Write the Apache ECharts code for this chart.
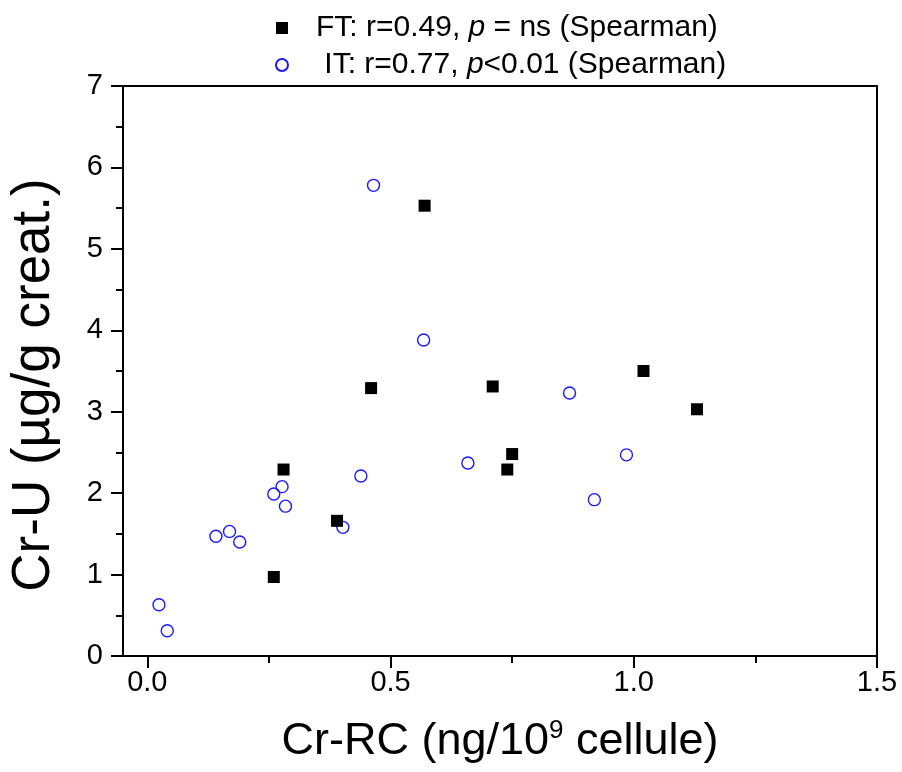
<!DOCTYPE html>
<html>
<head>
<meta charset="utf-8">
<script src="https://cdn.jsdelivr.net/npm/echarts@6/dist/echarts.min.js"></script>
<style>html,body{margin:0;padding:0;background:#fff}#c{width:902px;height:772px}</style>
</head>
<body>
<div id="c"></div>
<script>
// FT series (filled squares)
var ftX = [0.26, 0.28, 0.39, 0.46, 0.57, 0.71, 0.74, 0.75, 1.02, 1.13];
var ftY = [0.97, 2.29, 1.66, 3.29, 5.53, 3.31, 2.29, 2.48, 3.50, 3.03];
// IT series (open circles)
var itX = [0.024, 0.041, 0.141, 0.169, 0.190, 0.260, 0.277, 0.284, 0.402, 0.439, 0.465, 0.568, 0.659, 0.868, 0.919, 0.985];
var itY = [0.63, 0.31, 1.47, 1.53, 1.40, 1.99, 2.08, 1.84, 1.58, 2.21, 5.78, 3.88, 2.37, 3.23, 1.92, 2.47];
// ticks
var xMajorTicks = [0, 0.5, 1.0, 1.5];
var xMinorTicks = [0.25, 0.75, 1.25];
var yTicks = [0, 1, 2, 3, 4, 5, 6, 7];

var FONT = "'Liberation Sans', Arial, sans-serif";
function pairs(xs, ys){ return xs.map(function(x,i){ return [x, ys[i]]; }); }

var chart = echarts.init(document.getElementById('c'), null, {renderer:'canvas'});
var legendText = {
  FT: '{g| }{n|FT: r=0.49, }{i|p}{n| = ns (Spearman)}',
  IT: '{g| }{n| IT: r=0.77, }{i|p}{n|<0.01 (Spearman)}'
};
chart.setOption({
  animation: false,
  backgroundColor: '#fff',
  textStyle: {fontFamily: FONT, color: '#000'},
  grid: {left: 123, right: 25, top: 86, bottom: 116, show: true, borderColor: '#000', borderWidth: 2, backgroundColor: 'transparent', containLabel: false},
  legend: {
    orient: 'vertical', left: 270, top: 8, itemGap: 7,
    itemWidth: 12, itemHeight: 12,
    data: ['FT', 'IT'],
    formatter: function(n){ return legendText[n]; },
    textStyle: {
      fontFamily: FONT, color: '#000',
      rich: {
        g: {width: 23, fontSize: 30, lineHeight: 30},
        n: {fontSize: 30, fontFamily: FONT, color: '#000', lineHeight: 30},
        i: {fontSize: 30, fontFamily: FONT, color: '#000', fontStyle: 'italic', lineHeight: 30}
      }
    }
  },
  xAxis: [{
    type: 'value', min: -0.05, max: 1.5, position: 'bottom',
    name: '{a|Cr-RC (ng/10}{s|9}{a| cellule)}',
    nameLocation: 'middle', nameGap: 63,
    nameTextStyle: {rich: {
      a: {fontSize: 45, fontFamily: FONT, color: '#000', lineHeight: 45},
      s: {fontSize: 26, fontFamily: FONT, color: '#000', padding: [0,0,22,0], lineHeight: 26}
    }},
    splitLine: {show: false},
    axisLine: {show: true, onZero: false, lineStyle: {color: '#000', width: 2}},
    axisTick: {show: true, customValues: xMajorTicks, length: 12, lineStyle: {color: '#000', width: 2}},
    axisLabel: {show: true, customValues: xMajorTicks, margin: 12, fontSize: 29, fontFamily: FONT, color: '#000',
      formatter: function(v){ return v.toFixed(1); }}
  }, {
    type: 'value', min: -0.05, max: 1.5, position: 'bottom', offset: 0,
    splitLine: {show: false},
    axisLine: {show: false, onZero: false},
    axisTick: {show: true, customValues: xMinorTicks, length: 7, lineStyle: {color: '#000', width: 2}},
    axisLabel: {show: false}
  }],
  yAxis: {
    type: 'value', min: 0, max: 7, interval: 1,
    name: 'Cr-U (\u00b5g/g creat.)', nameLocation: 'middle', nameGap: 62,
    nameTextStyle: {fontSize: 53, fontFamily: FONT, color: '#000', lineHeight: 53, padding: [0, 28, 0, 0]},
    splitLine: {show: false},
    axisLine: {show: true, onZero: false, lineStyle: {color: '#000', width: 2}},
    axisTick: {show: true, length: 12, lineStyle: {color: '#000', width: 2}},
    minorTick: {show: true, splitNumber: 2, length: 7, lineStyle: {color: '#000', width: 2}},
    axisLabel: {margin: 20, fontSize: 29, fontFamily: FONT, color: '#000',
      customValues: yTicks}
  },
  series: [{
    name: 'IT', type: 'scatter', xAxisIndex: 0, symbol: 'circle', symbolSize: 12,
    itemStyle: {color: 'rgba(255,255,255,0)', borderColor: '#1a1aff', borderWidth: 1.4, opacity: 1},
    data: pairs(itX, itY), z: 2
  }, {
    name: 'FT', type: 'scatter', xAxisIndex: 0, symbol: 'rect', symbolSize: 12,
    itemStyle: {color: '#000', opacity: 1},
    data: pairs(ftX, ftY), z: 3
  }]
});
</script>
</body>
</html>
